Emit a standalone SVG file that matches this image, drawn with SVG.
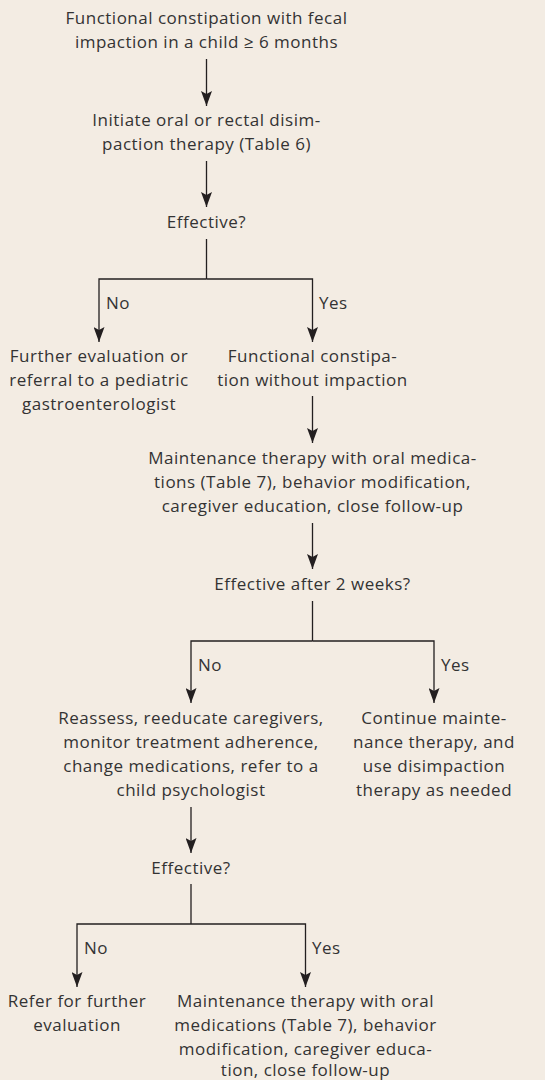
<svg xmlns="http://www.w3.org/2000/svg" width="545" height="1080" viewBox="0 0 545 1080">
<defs>
<marker id="ah" markerWidth="15" markerHeight="11" refX="15" refY="5.5" orient="auto" markerUnits="userSpaceOnUse" viewBox="0 0 15 11">
<path d="M0,0 L15,5.5 L0,11 L3,5.5 Z" fill="#231f20"/>
</marker>
<style>
text{font-family:"Open Sans",Lato,"Liberation Sans",sans-serif;font-size:17px;letter-spacing:0.5px;fill:#333;text-anchor:middle}
.lbl{text-anchor:start}
.ln{stroke:#231f20;stroke-width:1.3;fill:none}
.ar{stroke:#231f20;stroke-width:1.3;fill:none;marker-end:url(#ah)}
</style>
</defs>
<rect width="545" height="1080" fill="#f3ece3"/>
<g id="connectors">
<line class="ar" x1="206.5" y1="59" x2="206.5" y2="106"/>
<line class="ar" x1="206.5" y1="161" x2="206.5" y2="207"/>
<polyline class="ln" points="206.5,239 206.5,279"/>
<polyline class="ar" points="206.5,279 99,279 99,342"/>
<polyline class="ar" points="206.5,279 312.5,279 312.5,342"/>
<line class="ar" x1="312.5" y1="396" x2="312.5" y2="443"/>
<line class="ar" x1="312.5" y1="523" x2="312.5" y2="569"/>
<polyline class="ln" points="312.5,601 312.5,641"/>
<polyline class="ar" points="312.5,641 191,641 191,703"/>
<polyline class="ar" points="312.5,641 434,641 434,703"/>
<line class="ar" x1="191" y1="807" x2="191" y2="853"/>
<polyline class="ln" points="191,884 191,924"/>
<polyline class="ar" points="191,924 77,924 77,987"/>
<polyline class="ar" points="191,924 305.5,924 305.5,987"/>
<text class="lbl" x="106" y="309">No</text>
<text class="lbl" x="319" y="309">Yes</text>
<text class="lbl" x="198" y="671">No</text>
<text class="lbl" x="441" y="671">Yes</text>
<text class="lbl" x="84" y="954">No</text>
<text class="lbl" x="312" y="954">Yes</text>
</g>
<g id="start"><text x="206.5" y="24">Functional constipation with fecal</text><text x="206.5" y="48">impaction in a child ≥ 6 months</text></g>
<g id="disimpaction"><text x="206.5" y="126">Initiate oral or rectal disim-</text><text x="206.5" y="150">paction therapy (Table 6)</text></g>
<g id="effective1"><text x="206.5" y="228">Effective?</text></g>
<g id="further-eval"><text x="99" y="362">Further evaluation or</text><text x="99" y="386">referral to a pediatric</text><text x="99" y="410">gastroenterologist</text></g>
<g id="no-impaction"><text x="312.5" y="362">Functional constipa-</text><text x="312.5" y="386">tion without impaction</text></g>
<g id="maintenance1"><text x="312.5" y="464">Maintenance therapy with oral medica-</text><text x="312.5" y="488">tions (Table 7), behavior modification,</text><text x="312.5" y="512">caregiver education, close follow-up</text></g>
<g id="effective2"><text x="312.5" y="590">Effective after 2 weeks?</text></g>
<g id="reassess"><text x="191" y="724">Reassess, reeducate caregivers,</text><text x="191" y="748">monitor treatment adherence,</text><text x="191" y="772">change medications, refer to a</text><text x="191" y="796">child psychologist</text></g>
<g id="continue"><text x="434" y="724">Continue mainte-</text><text x="434" y="748">nance therapy, and</text><text x="434" y="772">use disimpaction</text><text x="434" y="796">therapy as needed</text></g>
<g id="effective3"><text x="191" y="874">Effective?</text></g>
<g id="refer"><text x="77" y="1007">Refer for further</text><text x="77" y="1031">evaluation</text></g>
<g id="maintenance2"><text x="305.5" y="1007">Maintenance therapy with oral</text><text x="305.5" y="1031">medications (Table 7), behavior</text><text x="305.5" y="1055">modification, caregiver educa-</text><text x="305.5" y="1076">tion, close follow-up</text></g>
</svg>
